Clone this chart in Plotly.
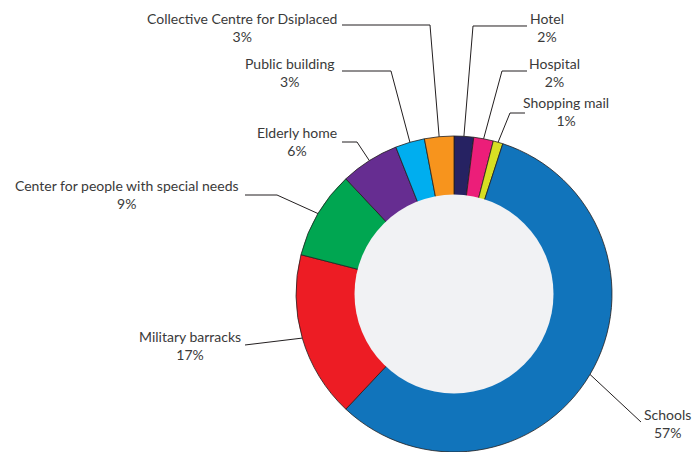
import math
import plotly.graph_objects as go

# Shelter types (clockwise from 12 o'clock) and their shares in percent
categories = [
    "Hotel", "Hospital", "Shopping mail", "Schools", "Military barracks",
    "Center for people with special needs", "Elderly home",
    "Public building", "Collective Centre for Dsiplaced",
]
shares = [2, 2, 1, 57, 17, 9, 6, 3, 3]
percent_labels = ["2%", "2%", "1%", "57%", "17%", "9%", "6%", "3%", "3%"]
colors = ["#262262", "#ec1e79", "#d7df23", "#1174bb", "#ed1c24",
          "#00a651", "#662d91", "#00aeef", "#f7941d"]

W, H = 694, 452
CX, CY, R = 454, 294, 158      # donut centre and outer radius in pixels
R_IN = 99.5                     # radius of the grey centre disc

# label placement: text centre, and elbow points of the leader line (pixels)
label_pos = {
    "Hotel": ((547, 28), [(527, 26), (473, 26)]),
    "Hospital": ((554, 72), [(527, 71), (502, 71)]),
    "Shopping mail": ((566, 112), [(525, 113), (510, 113)]),
    "Schools": ((667, 423), [(641, 422)]),
    "Military barracks": ((190, 345), [(245, 345)]),
    "Center for people with special needs": ((127, 195), [(245, 195), (277, 195)]),
    "Elderly home": ((297, 142), [(342, 142), (357, 142)]),
    "Public building": ((290, 72), [(342, 71), (391, 71)]),
    "Collective Centre for Dsiplaced": ((242, 27), [(342, 25), (430, 25)]),
}


def px(x):
    return x / W


def py(y):
    return 1 - y / H


fig = go.Figure()

fig.add_trace(go.Pie(
    labels=categories, values=shares, sort=False, direction="clockwise",
    rotation=0, hole=0.62, textinfo="none", hoverinfo="label+percent",
    marker=dict(colors=colors, line=dict(color="#231f20", width=0.8)),
    domain=dict(x=[px(CX - R), px(CX + R)], y=[py(CY + R), py(CY - R)]),
    showlegend=False,
))

# grey disc filling the donut hole
fig.add_trace(go.Pie(
    labels=["centre"], values=[1], sort=False, textinfo="none",
    hoverinfo="skip", marker=dict(colors=["#f1f2f4"], line=dict(width=0)),
    domain=dict(x=[px(CX - R_IN), px(CX + R_IN)],
                y=[py(CY + R_IN), py(CY - R_IN)]),
    showlegend=False,
))

total = sum(shares)
cum = 0
shapes = []
annotations = []
for name, val, pct in zip(categories, shares, percent_labels):
    mid = (cum + val / 2) / total * 360
    cum += val
    ex = CX + R * math.sin(math.radians(mid))
    ey = CY - R * math.cos(math.radians(mid))
    (tx, ty), elbows = label_pos[name]
    pts = elbows + [(ex, ey)]
    path = "M " + " L ".join(f"{px(x):.5f},{py(y):.5f}" for x, y in pts)
    shapes.append(dict(type="path", xref="paper", yref="paper", path=path,
                       line=dict(color="#231f20", width=1)))
    annotations.append(dict(
        x=px(tx), y=py(ty), xref="paper", yref="paper", showarrow=False,
        text=f"{name}<br>{pct}", align="center", xanchor="center",
        yanchor="middle", font=dict(family="Lato", size=14, color="#3a3a3a"),
    ))

fig.update_layout(
    width=W, height=H, margin=dict(l=0, r=0, t=0, b=0),
    paper_bgcolor="white", plot_bgcolor="white",
    shapes=shapes, annotations=annotations,
)

fig.write_html("out.html")
